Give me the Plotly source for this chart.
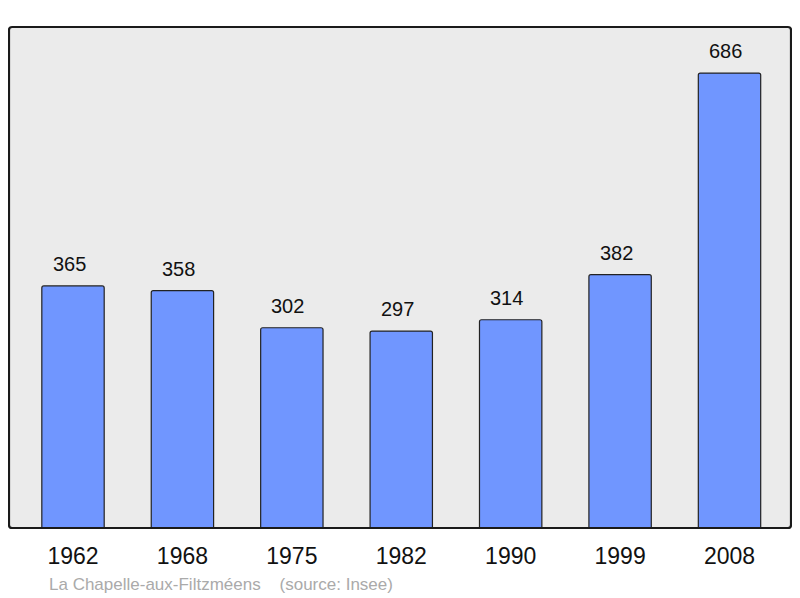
import plotly.graph_objects as go

years = ["1962", "1968", "1975", "1982", "1990", "1999", "2008"]
population = [365, 358, 302, 297, 314, 382, 686]
footer_text = "La Chapelle-aux-Filtzméens    (source: Insee)"

FONT = "Liberation Sans, Arial, sans-serif"

fig = go.Figure()
fig.add_trace(go.Bar(
    x=list(range(len(years))), y=population,
    width=0.57,
    marker=dict(color="#7096ff", line=dict(color="#222222", width=1.2), cornerradius=2),
    hoverinfo="skip",
))

for i, v in enumerate(population):
    fig.add_annotation(x=i, y=v, text=str(v), showarrow=False, yshift=22, xshift=-4,
                       font=dict(family=FONT, size=20, color="#111"))

fig.add_annotation(xref="paper", yref="paper", x=(47-9)/782, y=-(584-528)/501,
                   xanchor="left", yanchor="middle", showarrow=False, text=footer_text,
                   font=dict(family=FONT, size=17, color="#aaaaaa"))

fig.add_shape(type="path", xref="paper", yref="paper",
              path="M 0.004 0 L 0.996 0 Q 1 0 1 0.006 L 1 0.994 Q 1 1 0.996 1 L 0.004 1 Q 0 1 0 0.994 L 0 0.006 Q 0 0 0.004 0 Z",
              line=dict(color="#1a1a1a", width=2.2), layer="above")

# page body has an 8px margin; compensate so the plot lands where the reference has it
fig.update_layout(
    width=792, height=590,
    margin=dict(l=1, r=9, t=19, b=70),
    paper_bgcolor="white", plot_bgcolor="#ebebeb",
    showlegend=False,
    xaxis=dict(range=[-0.585, 6.562], tickmode="array", tickvals=list(range(len(years))),
               ticktext=years, showgrid=False, zeroline=False, showline=False,
               ticks="outside", ticklen=7, tickcolor="rgba(0,0,0,0)",
               tickfont=dict(family=FONT, size=23, color="#111")),
    yaxis=dict(range=[0, 755.5], showgrid=False, zeroline=False, showline=False,
               showticklabels=False),
)

fig.write_html("out.html")
